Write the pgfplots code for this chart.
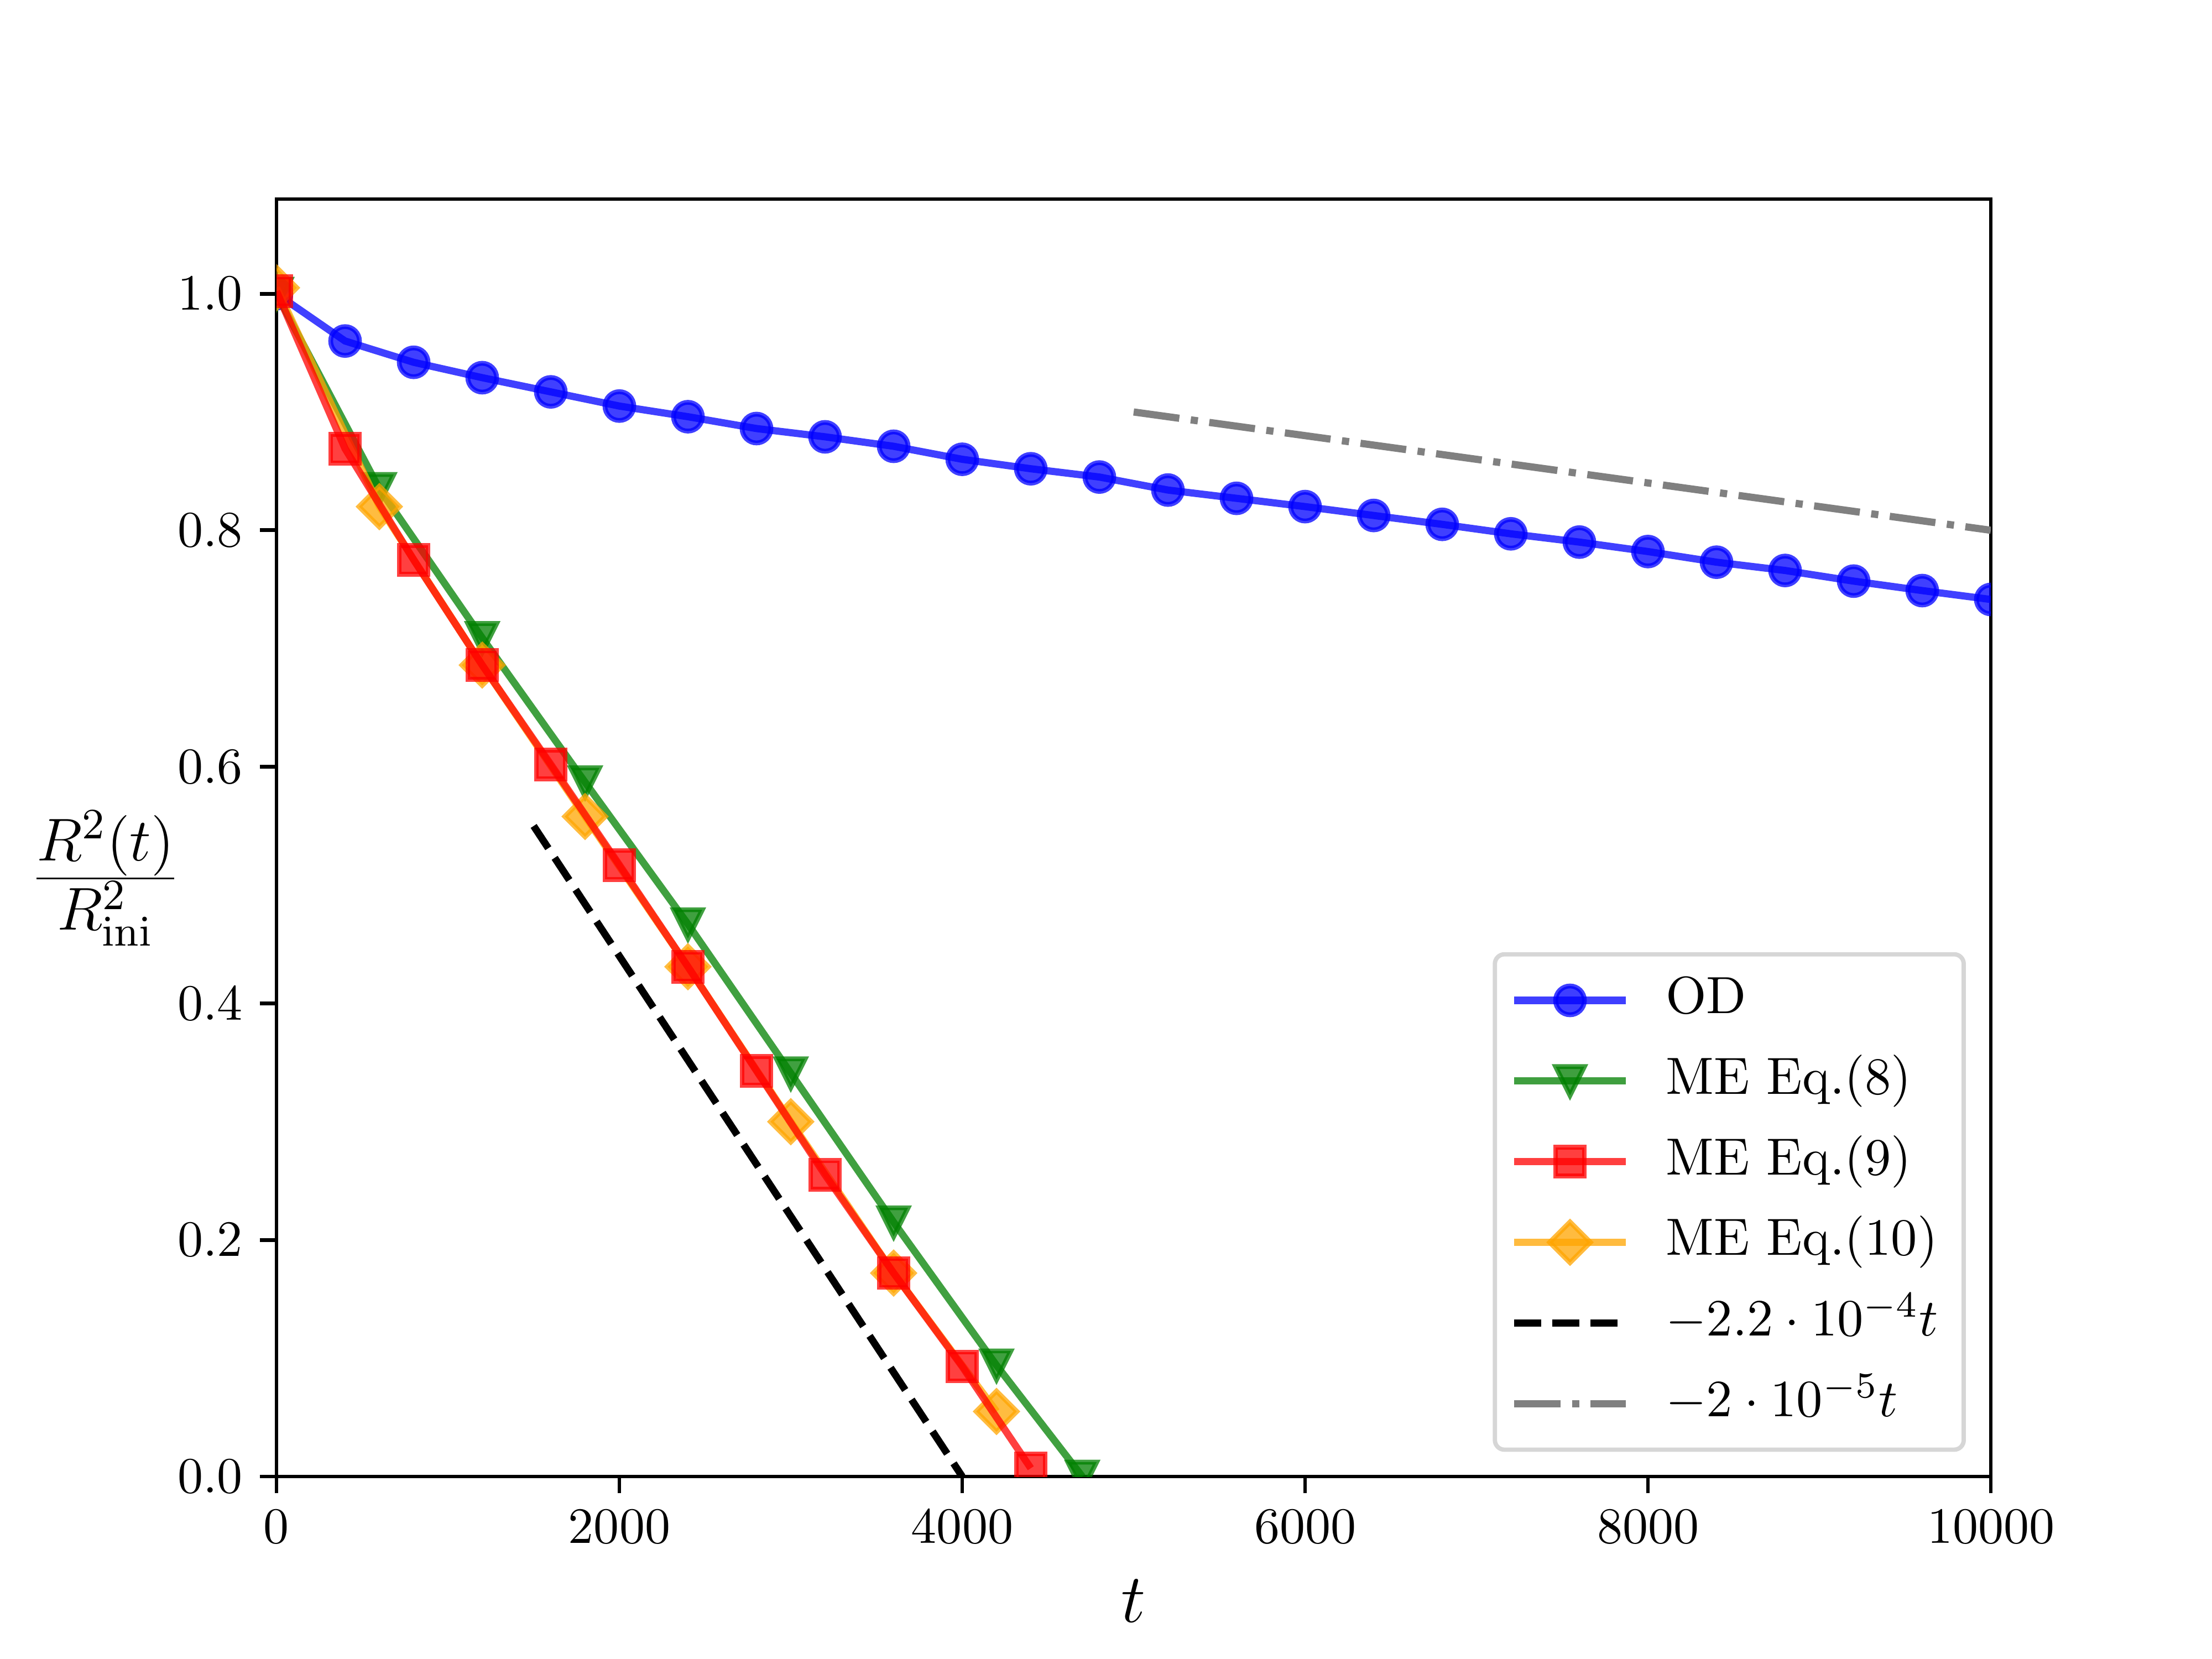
\RequirePackage{fix-cm}
\documentclass[border=0pt]{standalone}
\usepackage{pgfplots}
\usepackage{pgfplotstable}
\pgfplotsset{compat=1.18}
\definecolor{mplblue}{RGB}{0,0,255}
\definecolor{mplgreen}{RGB}{0,128,0}
\definecolor{mplred}{RGB}{255,0,0}
\definecolor{mplorange}{RGB}{255,165,0}
\definecolor{mplgray}{RGB}{128,128,128}
\definecolor{legframe}{RGB}{214,214,214}
\pgfdeclareplotmark{mpltri}{%
 \pgfpathmoveto{\pgfqpoint{0pt}{-\pgfplotmarksize}}%
 \pgfpathlineto{\pgfqpoint{-\pgfplotmarksize}{\pgfplotmarksize}}%
 \pgfpathlineto{\pgfqpoint{\pgfplotmarksize}{\pgfplotmarksize}}%
 \pgfpathclose\pgfusepathqfillstroke}
\pgfdeclareplotmark{mpldiamond}{%
 \pgfpathmoveto{\pgfqpoint{0pt}{1.41421\pgfplotmarksize}}%
 \pgfpathlineto{\pgfqpoint{1.41421\pgfplotmarksize}{0pt}}%
 \pgfpathlineto{\pgfqpoint{0pt}{-1.41421\pgfplotmarksize}}%
 \pgfpathlineto{\pgfqpoint{-1.41421\pgfplotmarksize}{0pt}}%
 \pgfpathclose\pgfusepathqfillstroke}

\pgfplotstableread{
t r
0 1.000
400 0.960
800 0.942
1200 0.929
1600 0.917
2000 0.905
2400 0.896
2800 0.886
3200 0.879
3600 0.871
4000 0.860
4400 0.852
4800 0.845
5200 0.834
5600 0.827
6000 0.820
6400 0.8125
6800 0.805
7200 0.797
7600 0.790
8000 0.782
8400 0.773
8800 0.766
9200 0.757
9600 0.749
10000 0.7415
}\od
\pgfplotstableread{
t r
0 1.000
600 0.835
1200 0.709
1800 0.587
2400 0.467
3000 0.341
3600 0.215
4200 0.094
4700 0.000
}\meeight
\pgfplotstableread{
t r
0 1.002
400 0.869
800 0.775
1200 0.686
1600 0.602
2000 0.517
2400 0.431
2800 0.343
3200 0.255
3600 0.172
4000 0.093
4400 0.007
}\menine
\pgfplotstableread{
t r
0 1.005
600 0.820
1200 0.686
1800 0.558
2400 0.431
3000 0.300
3600 0.172
4200 0.055
}\meten

\begin{document}
\begin{tikzpicture}
\path[use as bounding box] (0,0) rectangle (460.8pt,345.6pt);
\begin{axis}[
  at={(57.6pt,38.016pt)}, anchor=south west,
  scale only axis, width=357.12pt, height=266.112pt,
  xmin=0, xmax=10000, ymin=0, ymax=1.08,
  xtick={0,2000,4000,6000,8000,10000},
  ytick={0,0.2,0.4,0.6,0.8,1.0},
  scaled x ticks=false,
  xticklabel style={/pgf/number format/.cd, fixed, set thousands separator={}},
  yticklabel style={/pgf/number format/.cd, fixed, fixed zerofill, precision=1},
  tick label style={font=\fontsize{10.6}{12.7}\selectfont},
  tick align=outside, tick pos=left,
  major tick length=3.5pt,
  tick style={line width=0.8pt, black},
  axis line style={line width=0.8pt},
  clip marker paths=true,
  xlabel={$t$},
  xlabel style={at={(rel axis cs:0.5,-0.0973)}, anchor=center, font=\fontsize{14.4}{17}\selectfont},
  ylabel={$\frac{R^2(t)}{R^2_{\mathrm{ini}}}$},
  ylabel style={rotate=-90, at={(rel axis cs:-0.0998,0.4683)}, anchor=center, font=\fontsize{18}{21.6}\selectfont},
  legend image code/.code={\draw[mark repeat=2,mark phase=2,#1] plot coordinates {(0pt,0pt) (11.6pt,0pt) (23.2pt,0pt)};},
  legend cell align=left,
  legend style={at={(rel axis cs:0.9842,0.021)}, anchor=south east,
    draw=legframe, line width=0.9pt, rounded corners=2pt, fill=white, fill opacity=0.8, text opacity=1,
    font=\fontsize{10.9}{13}\selectfont, inner xsep=3.3pt, inner ysep=2.3pt, outer sep=0pt,
    row sep=2.2pt, column sep=5.6pt,
    nodes={inner sep=2pt, text height=8pt, text depth=2.6pt}},
]
\addplot[mplblue, opacity=0.75, line width=1.5pt, mark=*, mark size=3pt, mark options={line width=1pt, solid}] table[x=t,y=r] {\od};
\addlegendentry{OD}
\addplot[mplgreen, opacity=0.75, line width=1.5pt, mark=mpltri, mark size=3pt, mark options={line width=1pt, solid}] table[x=t,y=r] {\meeight};
\addlegendentry{ME Eq.(8)}
\addplot[mplorange, opacity=0.75, line width=1.5pt, mark=mpldiamond, mark size=3pt, mark options={line width=1pt, solid}, forget plot] table[x=t,y=r] {\meten};
\addplot[mplred, opacity=0.75, line width=1.5pt, mark=square*, mark size=3pt, mark options={line width=1pt, solid}] table[x=t,y=r] {\menine};
\addlegendentry{ME Eq.(9)}
\addlegendimage{mplorange, opacity=0.75, line width=1.5pt, mark=mpldiamond, mark size=3pt, mark options={line width=1pt, solid}}
\addlegendentry{ME Eq.(10)}
\addplot[black, line width=1.5pt, dash pattern=on 5.55pt off 2.4pt] coordinates {(1500,0.55) (4000,0)};
\addlegendentry{$-2.2\cdot10^{-4}t$}
\addplot[mplgray, line width=1.5pt, dash pattern=on 9.6pt off 2.4pt on 1.5pt off 2.4pt] coordinates {(5000,0.9) (10000,0.8)};
\addlegendentry{$-2\cdot10^{-5}t$}
\end{axis}
\end{tikzpicture}
\end{document}
